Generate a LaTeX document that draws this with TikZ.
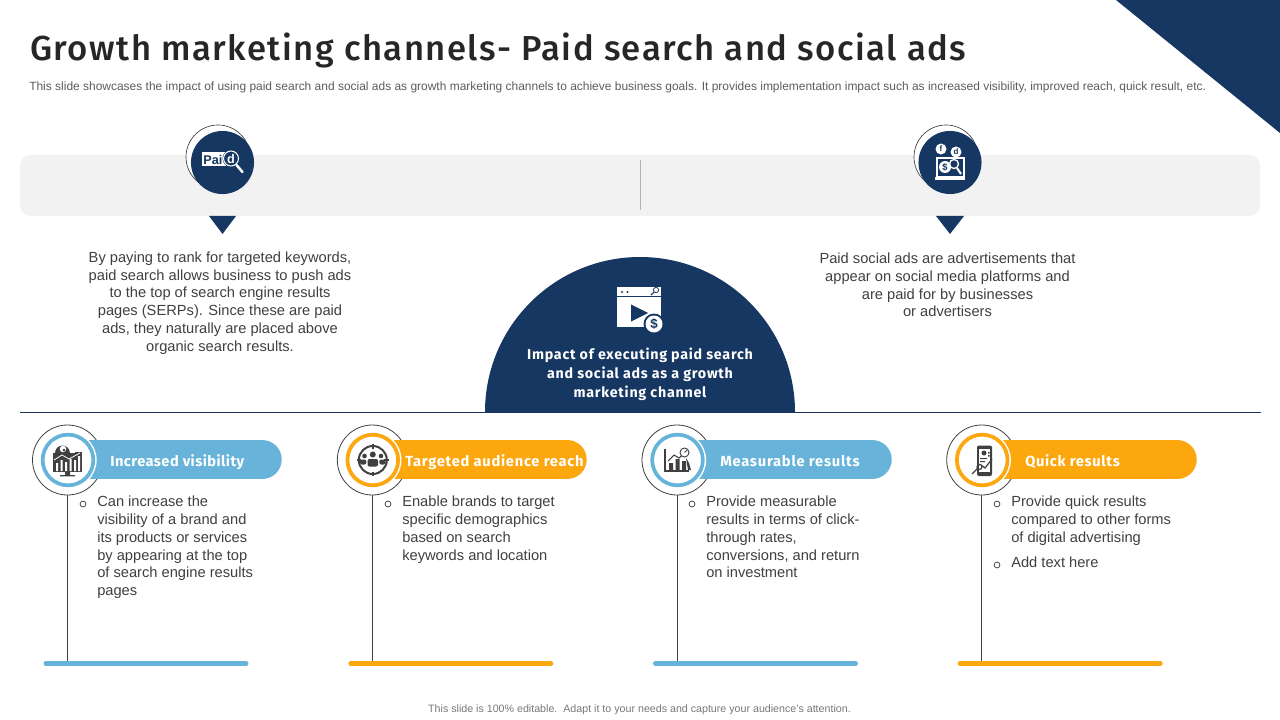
\documentclass[tikz,border=0pt]{standalone}
\usepackage{fontspec}
\setmainfont{Liberation Sans}
\newfontfamily\din{Fira Sans}[LetterSpace=3]
\newfontfamily\ttl{Fira Sans Medium}[LetterSpace=4.25]
\usetikzlibrary{calc}
\definecolor{navy}{HTML}{163762}
\definecolor{sky}{HTML}{67B3D9}
\definecolor{amber}{HTML}{FDA70F}
\definecolor{band}{HTML}{F2F2F2}
\definecolor{bodyc}{HTML}{404040}
\definecolor{icn}{HTML}{404040}
\tikzset{
  x=.75pt,y=-.75pt,
  bodytext/.style={text=bodyc,font=\fontsize{11}{13.3}\selectfont,inner sep=0pt,align=center},
  listtext/.style={text=bodyc,font=\fontsize{11}{13.3}\selectfont,inner sep=0pt,align=left,anchor=north west},
  pill/.style={fill=#1,rounded corners=14.6pt,minimum width=166.5pt,minimum height=29.2pt,inner sep=0pt,anchor=east},
  pilltext/.style={text=white,font=\din\bfseries\fontsize{11}{13}\selectfont,inner sep=0pt,anchor=west,text height=8pt,text depth=2pt},
  footbar/.style={fill=#1,rounded corners=1.5pt,minimum width=153.5pt,minimum height=3.6pt,inner sep=0pt},
  outline/.style={circle,draw=bodyc,line width=.6pt,minimum size=52.5pt,inner sep=0pt},
  ringc/.style={circle,draw=#1,fill=white,line width=2.8pt,minimum size=38pt,inner sep=0pt},
  whitec/.style={circle,fill=white,minimum size=43pt,inner sep=0pt},
  bull/.style={circle,draw=bodyc,line width=.55pt,minimum size=4.4pt,inner sep=0pt},
  stem/.style={draw=bodyc,line width=.6pt},
  topdisc/.style={circle,fill=navy,minimum size=47.3pt,inner sep=0pt},
  topout/.style={circle,draw=bodyc,line width=.5pt,fill=white,minimum size=48pt,inner sep=0pt},
}
\begin{document}
\begin{tikzpicture}
\useasboundingbox (0,0) rectangle (1280,720);
\fill[white] (0,0) rectangle (1280,720);
% corner
\fill[navy] (1116,0) -- (1280,0) -- (1280,133) -- cycle;
% title
\node[anchor=west,inner sep=0pt,text=black!85,font=\ttl\fontsize{26}{30}\selectfont] (title) at (30,50.5) {Growth marketing channels- Paid search and social ads};
\node[anchor=west,inner sep=0pt,text=bodyc!85,font=\fontsize{8.98}{11}\selectfont] (sub) at (29,87) {This slide showcases the impact of using paid search and social ads as growth marketing channels to achieve business goals. It provides implementation impact such as increased visibility, improved reach, quick result, etc.};
% band
\fill[band,rounded corners=8pt] (20,155) rectangle (1260,216);
\draw[bodyc!40,line width=.4pt] (640,160) -- (640,210);
% triangles
\fill[navy] (209,216) -- (236,216) -- (222.5,234) -- cycle;
\fill[navy] (936,216) -- (964,216) -- (950,234) -- cycle;
% top discs
\node[topout] (o1) at (218,157) {};
\node[topdisc] (d1) at (222.5,162.5) {};
\node[topout] (o2) at (946,157) {};
\node[topdisc] (d2) at (950,162.5) {};
% Paid icon
\fill[white] (202,152) rectangle (226,166.5);
\node[inner sep=0pt,text=navy,font=\bfseries\fontsize{9.5}{10}\selectfont] (paid) at (213,159.5) {Pai};
\fill[navy] (231,158.5) circle[radius=8.5];
\draw[white,line width=.8pt] (231,158.5) circle[radius=7.5];
\node[inner sep=0pt,text=white,font=\bfseries\fontsize{9.5}{10}\selectfont] (paidd) at (231,158.5) {d};
\draw[white,line width=1.9pt,line cap=round] (236.5,165) -- (242.5,172);
% social icon
\fill[white] (941,149) circle[radius=5.5] (956,152) circle[radius=5.5];
\node[inner sep=0pt,text=navy,font=\bfseries\fontsize{6}{7}\selectfont] (fb) at (941,149) {f};
\node[inner sep=0pt,text=navy,font=\bfseries\fontsize{6}{7}\selectfont] (tk) at (956,152) {d};
\draw[white,line width=.9pt] (937,158) rectangle (964,177);
\fill[white] (935,177.5) rectangle (965,180);
\fill[white] (945,167) circle[radius=6];
\node[inner sep=0pt,text=navy,font=\bfseries\fontsize{7}{8}\selectfont] (cd) at (945,167) {\$};
\draw[white,line width=1pt] (954,164) circle[radius=4.5];
\draw[white,line width=1.5pt] (957,168) -- (961,174);
% semicircle
\fill[navy] (485,412) arc[start angle=180,end angle=0,radius=116.25pt] -- cycle;
\draw[navy,line width=.7pt] (20,412.5) -- (1261,412.5);
% video icon
\fill[white] (617,287) rectangle (661,327);
\fill[navy] (617,295.5) rectangle (661,296.7);
\fill[navy] (622,292) circle[radius=1.2] (627.5,292) circle[radius=1.2];
\draw[navy,line width=.6pt] (656,290) circle[radius=2.6];
\draw[navy,line width=.9pt] (654,292.2) -- (651,295);
\fill[navy] (631,304.5) -- (648,313) -- (631,321.5) -- cycle;
\fill[navy] (654,324) circle[radius=10.5];
\fill[white] (654,324) circle[radius=8.5];
\node[inner sep=0pt,text=navy,font=\bfseries\fontsize{10}{11}\selectfont] (dollar) at (654,324) {\$};
\node[inner sep=0pt,text=white,align=center,font=\din\addfontfeature{LetterSpace=5.2}\bfseries\fontsize{10.7}{14.2}\selectfont] (semi) at (640,374) {Impact of executing paid search\\and social ads as a growth\\marketing channel};
% upper paragraphs
\node[bodytext] (left) at (220,303) {By paying to rank for targeted keywords,\\paid search allows business to push ads\\to the top of search engine results\\pages (SERPs). Since these are paid\\ads, they naturally are placed above\\organic search results.};
\node[bodytext] (right) at (947.5,285) {Paid social ads are advertisements that\\appear on social media platforms and\\are paid for by businesses\\or advertisers};
% columns
\foreach \n/\cx/\col/\lbx/\lab/\pr/\ls in {
  1/67.5/sky/110/Increased visibility/282/3,
  2/372.3/amber/405/Targeted audience reach/587/5,
  3/677/sky/720/Measurable results/892/5.3,
  4/981.7/amber/1025/Quick results/1197/4.5}{
  \node[outline] (out\n) at (\cx,460) {};
  \node[pill=\col] (pill\n) at (\pr,459.5) {};
  \node[whitec] (wh\n) at (\cx+0.5,460) {};
  \node[ringc=\col] (ring\n) at (\cx+0.5,460) {};
  \node[pilltext] (lab\n) at (\lbx,462) {\addfontfeature{LetterSpace=\ls}\lab};
  \node[footbar=\col] (bar\n) at (\cx+78.5,663.5) {};
  \draw[stem] (out\n.south) -- (out\n.south |- bar\n.north);
}
% Icon 1: monitor
\fill[icn] (53,452) rectangle (82,472);
\fill[icn] (65,472) rectangle (70,475) (60,475) rectangle (75,476.3);
\fill[white] (56,463) rectangle (58,471) (60.5,460) rectangle (62.5,471) (65,462) rectangle (67,471) (69.5,459) rectangle (71.5,471) (74,460) rectangle (76,471) (78,456) rectangle (80,471);
\draw[white,line width=.6pt] (54,460) -- (62,455) -- (69,459) -- (80,453);
\fill[white] (52,442) rectangle (75,453);
\fill[icn] (55,453) arc[start angle=180,end angle=0,radius=5.6pt] -- cycle;
\fill[white] (63,449) circle[radius=3.3];
\fill[icn] (64,450) circle[radius=1.5];
% Icon 2: target
\draw[icn,line width=1.5pt] (372.8,460) circle[radius=14];
\foreach \a in {0,90,180,270}{\draw[icn,line width=1.2pt] ($(372.8,460)+(\a:11.5)$) -- ($(372.8,460)+(\a:16)$);}
\fill[icn] (372.8,454.5) circle[radius=3] (364.5,456) circle[radius=2.3] (381,456) circle[radius=2.3];
\fill[icn,rounded corners=1.5pt] (367.5,466.5) rectangle (378,459);
\fill[icn,rounded corners=1.5pt] (360,464.5) rectangle (366.3,459.5);
\fill[icn,rounded corners=1.5pt] (379.3,464.5) rectangle (385.5,459.5);
% Icon 3: chart
\draw[icn,line width=1.4pt] (665,449) -- (665,471) -- (689,471);
\fill[icn] (669,463) rectangle (673,470) (675.5,459) rectangle (679.5,470) (682,461) rectangle (686,470);
\draw[icn,line width=.8pt] (668,461) -- (674,455) -- (679,458) -- (686,452);
\fill[white] (684.5,452.5) circle[radius=4.5];
\draw[icn,line width=.7pt] (684.5,452.5) circle[radius=4.5];
\draw[icn,line width=.7pt] (684.5,452.5) -- (687,450);
\fill[icn] (686,458) -- (689,463) -- (691,470) -- (688,470) -- cycle;
% Icon 4: phone
\fill[icn,rounded corners=1.5pt] (977,445.5) rectangle (992,476);
\fill[white] (979,449) rectangle (990,472);
\fill[icn] (984,453) circle[radius=2.5];
\fill[icn] (980,458) rectangle (987,459) (980,461) rectangle (985,462);
\draw[icn,line width=.9pt] (972,474) -- (978,468);
\draw[icn,line width=.9pt] (979.5,467) circle[radius=2.5];
\draw[icn,line width=.9pt] (981,465) -- (985,468) -- (992,459);
\fill[icn] (988,452) rectangle (989.5,453.5) (988,455) rectangle (989.5,456.5);
% lists
\node[listtext] (t1) at (97,496) {Can increase the\\visibility of a brand and\\its products or services\\by appearing at the top\\of search engine results\\pages};
\node[listtext] (t2) at (402,496) {Enable brands to target\\specific demographics\\based on search\\keywords and location};
\node[listtext] (t3) at (706,496) {Provide measurable\\results in terms of click-\\through rates,\\conversions, and return\\on investment};
\node[listtext] (t4) at (1011,496) {Provide quick results\\compared to other forms\\of digital advertising};
\node[listtext] (t5) at (1011,557) {Add text here};
\node[bull] (b1) at (83,504) {};
\node[bull] (b2) at (388,504) {};
\node[bull] (b3) at (692,504) {};
\node[bull] (b4) at (997,504) {};
\node[bull] (b5) at (997,565) {};
% footer
\node[inner sep=0pt,text=bodyc!70,font=\fontsize{8}{10}\selectfont] (foot) at (639.5,710) {This slide is 100\% editable.\ \ Adapt it to your needs and capture your audience's attention.};
\end{tikzpicture}
\end{document}
